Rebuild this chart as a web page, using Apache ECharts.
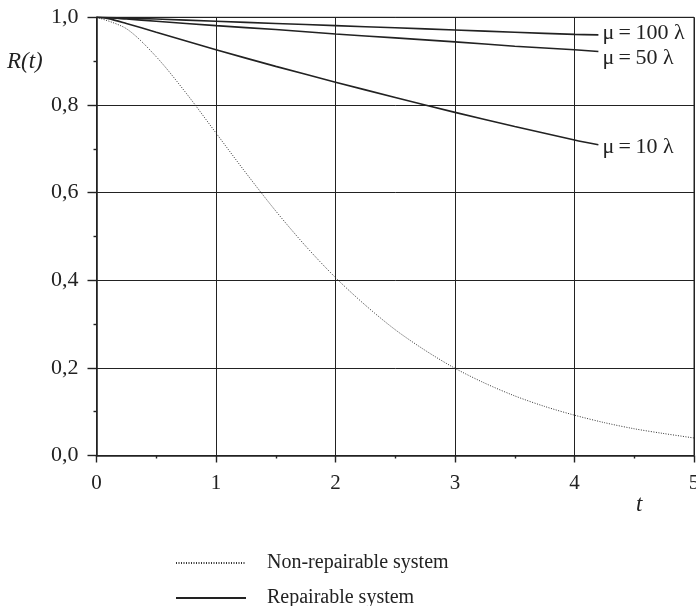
<!DOCTYPE html>
<html>
<head>
<meta charset="utf-8">
<script src="https://cdn.jsdelivr.net/npm/echarts@6/dist/echarts.min.js"></script>
<style>html,body{margin:0;padding:0;background:#fff}#c{width:696px;height:606px}</style>
</head>
<body>
<div id="c"></div>
<script>
// Non-repairable system
const tNon = [0,0.25,0.5,0.75,1,1.25,1.5,1.75,2,2.25,2.5,2.75,3,3.25,3.5,3.75,4,4.25,4.5,4.75,5];
const rNon = [1.000,0.974,0.910,0.827,0.736,0.645,0.558,0.478,0.406,0.343,0.287,0.240,0.199,0.165,0.136,0.112,0.092,0.075,0.061,0.050,0.040];
// Repairable system curves
const tRep = [0,0.1,0.25,0.5,1,1.5,2,2.5,3,3.5,4,4.2];
const rMu10  = [1.000,0.997,0.986,0.966,0.926,0.888,0.852,0.817,0.783,0.751,0.720,0.709];
const rMu50  = [1.000,0.999,0.996,0.991,0.981,0.972,0.962,0.953,0.944,0.934,0.926,0.922];
const rMu100 = [1.000,0.9995,0.998,0.996,0.991,0.986,0.981,0.976,0.971,0.966,0.961,0.960];
const repLabels = ['μ\u2009=\u200910 λ','μ\u2009=\u200950 λ','μ\u2009=\u2009100 λ'];
const legendNames = ['Non-repairable system','Repairable system'];
const xTicks = [0,1,2,3,4,5];
const yTicks = [0,0.2,0.4,0.6,0.8,1.0];

const FONT = 'Liberation Serif';
const INK = '#222';
const pair = (xs, ys) => xs.map((x,i)=>[x, ys[i]]);

function repSeries(data, label, offset){
  return {
    type:'line', name:legendNames[1], data, smooth:0.3, symbol:'none',
    lineStyle:{color:INK,width:1.6,type:'solid'}, itemStyle:{color:INK},
    endLabel:{show:true, formatter:()=>label, distance:4, offset,
      fontFamily:FONT, fontSize:22, color:INK},
    z:3
  };
}
function legendAt(name, top){
  return {
    orient:'vertical', left:175, top, padding:0, itemWidth:70, itemHeight:14,
    itemStyle:{opacity:0},
    textStyle:{fontFamily:FONT, fontSize:20, color:INK, padding:[0,0,0,16]},
    data:[name]
  };
}

const chart = echarts.init(document.getElementById('c'), null, {renderer:'canvas'});
chart.setOption({
  animation:false,
  backgroundColor:'#fff',
  grid:{left:96.5, right:2, top:17.3, bottom:150.5, containLabel:false, outerBoundsMode:'none',
    show:true, borderColor:INK, borderWidth:1},
  xAxis:{
    type:'value', min:xTicks[0], max:xTicks[xTicks.length-1], interval:1,
    axisLine:{show:true, onZero:false, lineStyle:{color:INK,width:1.6}},
    axisTick:{show:true, inside:false, length:7, lineStyle:{color:INK,width:1.4}},
    minorTick:{show:true, splitNumber:2, length:3, lineStyle:{color:INK,width:1.4}},
    splitLine:{show:true, lineStyle:{color:INK,width:1}},
    axisLabel:{margin:17, fontFamily:FONT, fontSize:21, color:INK, formatter:v=>String(v)}
  },
  yAxis:{
    type:'value', min:yTicks[0], max:yTicks[yTicks.length-1], interval:0.2,
    axisLine:{show:true, onZero:false, lineStyle:{color:INK,width:1.6}},
    axisTick:{show:true, inside:false, length:9, lineStyle:{color:INK,width:1.4}},
    minorTick:{show:true, splitNumber:2, length:3, lineStyle:{color:INK,width:1.4}},
    splitLine:{show:true, lineStyle:{color:INK,width:1}},
    axisLabel:{margin:18, fontFamily:FONT, fontSize:22, color:INK,
      formatter:v=>v.toFixed(1).replace('.',',')}
  },
  legend:[legendAt(legendNames[0], 553), legendAt(legendNames[1], 588)],
  graphic:[
    {type:'text', left:7, top:50, style:{text:'R(t)', font:'italic 23px "Liberation Serif"', fill:INK}},
    {type:'text', left:636, top:493, style:{text:'t', font:'italic 23px "Liberation Serif"', fill:INK}}
  ],
  series:[
    {type:'line', name:legendNames[0], data:pair(tNon,rNon), smooth:0.3, symbol:'none',
      lineStyle:{color:'#333',width:1,type:[1,1.5]}, itemStyle:{color:'#333'}, z:2},
    repSeries(pair(tRep,rMu10), repLabels[0], [0,2]),
    repSeries(pair(tRep,rMu50), repLabels[1], [0,7]),
    repSeries(pair(tRep,rMu100), repLabels[2], [0,-2])
  ]
});
</script>
</body>
</html>
